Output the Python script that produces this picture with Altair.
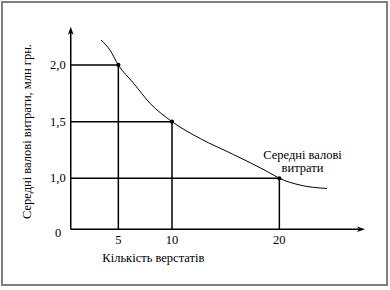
import altair as alt
import pandas as pd

# ---- data ----
curve_x = [3.39, 4.23, 5.0, 6.41, 7.97, 10.0, 12.64, 15.72, 18.87, 20.0, 21.93, 24.44]
curve_y = [2.22, 2.13, 2.0, 1.84, 1.66, 1.5, 1.35, 1.21, 1.06, 1.0, 0.94, 0.91]
point_x = [5, 10, 20]
point_y = [2.0, 1.5, 1.0]
x_tick_values = [5, 10, 20]
x_tick_labels = ["5", "10", "20"]
y_tick_values = [1.0, 1.5, 2.0]
y_tick_labels = ["1,0", "1,5", "2,0"]
origin_label = "0"
x_title = "Кількість верстатів"
y_title = "Середні валові витрати, млн грн."
curve_label = ["Середні валові", "витрати"]

# ---- layout (scale geometry) ----
X_DOMAIN = [-5.84, 30.03]
Y_DOMAIN = [0.058, 2.556]
X0, Y0 = 0.565, 0.55          # where the drawn axes cross
X_END, Y_END = 27.98, 2.338   # arrow tips
X_LABEL_POS = (8.26, 0.297)
Y_LABEL_POS = (-3.51, 1.413)
CURVE_LABEL_POS = (22.16, 1.206)

FONT = "Times New Roman"
FS = 12.5
INK = "#000000"

xs = alt.Scale(domain=X_DOMAIN, nice=False, zero=False)
ys = alt.Scale(domain=Y_DOMAIN, nice=False, zero=False)


def X(f):
    return alt.X(f, type="quantitative", scale=xs, axis=None)


def Y(f):
    return alt.Y(f, type="quantitative", scale=ys, axis=None)


# axes lines
axes_df = pd.DataFrame({
    "x": [X0, X0],
    "x2": [X0, X_END - 0.37],
    "y": [Y0, Y0],
    "y2": [Y_END - 0.035, Y0],
})
axes = alt.Chart(axes_df).mark_rule(color=INK, strokeWidth=1.5).encode(
    x=X("x"), x2="x2", y=Y("y"), y2="y2"
)

up_arrow = alt.Chart(pd.DataFrame({"x": [X0], "y": [Y_END]})).mark_point(
    shape="M0,0L-0.7,2L0,1.5L0.7,2Z", filled=True, size=64, color=INK, opacity=1, strokeWidth=0
).encode(x=X("x"), y=Y("y"))

right_arrow = alt.Chart(pd.DataFrame({"x": [X_END], "y": [Y0]})).mark_point(
    shape="M0,0L-2,-0.7L-1.5,0L-2,0.7Z", filled=True, size=64, color=INK, opacity=1, strokeWidth=0
).encode(x=X("x"), y=Y("y"))

# guide lines from points to axes
h_df = pd.DataFrame({"x": [X0] * len(point_x), "x2": point_x, "y": point_y})
v_df = pd.DataFrame({"x": point_x, "y": [Y0] * len(point_y), "y2": point_y})
h_guides = alt.Chart(h_df).mark_rule(color=INK, strokeWidth=1.5).encode(
    x=X("x"), x2="x2", y=Y("y")
)
v_guides = alt.Chart(v_df).mark_rule(color=INK, strokeWidth=1.5).encode(
    x=X("x"), y=Y("y"), y2="y2"
)

# curve
curve = alt.Chart(pd.DataFrame({"x": curve_x, "y": curve_y})).mark_line(
    color=INK, strokeWidth=1, interpolate="monotone"
).encode(x=X("x"), y=Y("y"), order="x:Q")

points = alt.Chart(pd.DataFrame({"x": point_x, "y": point_y})).mark_circle(
    color=INK, size=18, opacity=1
).encode(x=X("x"), y=Y("y"))

# tick labels
ytl = alt.Chart(pd.DataFrame({"x": [X0] * 3, "y": y_tick_values, "t": y_tick_labels})).mark_text(
    align="right", baseline="middle", dx=-5, font=FONT, fontSize=FS, color=INK
).encode(x=X("x"), y=Y("y"), text="t:N")

xtl = alt.Chart(pd.DataFrame({"x": x_tick_values, "y": [Y0] * 3, "t": x_tick_labels})).mark_text(
    align="center", baseline="middle", dy=11, font=FONT, fontSize=FS, color=INK
).encode(x=X("x"), y=Y("y"), text="t:N")

zero = alt.Chart(pd.DataFrame({"x": [X0], "y": [Y0], "t": [origin_label]})).mark_text(
    align="center", baseline="middle", dx=-12.7, dy=3.5, font=FONT, fontSize=FS, color=INK
).encode(x=X("x"), y=Y("y"), text="t:N")

# titles
xt = alt.Chart(pd.DataFrame({"x": [X_LABEL_POS[0]], "y": [X_LABEL_POS[1]], "t": [x_title]})).mark_text(
    align="center", baseline="middle", font=FONT, fontSize=FS, color=INK
).encode(x=X("x"), y=Y("y"), text="t:N")

yt = alt.Chart(pd.DataFrame({"x": [Y_LABEL_POS[0]], "y": [Y_LABEL_POS[1]], "t": [y_title]})).mark_text(
    align="center", baseline="middle", angle=270, font=FONT, fontSize=FS, color=INK
).encode(x=X("x"), y=Y("y"), text="t:N")

cl = alt.Chart(pd.DataFrame({"x": [CURVE_LABEL_POS[0]], "y": [CURVE_LABEL_POS[1]]})).mark_text(
    align="center", baseline="middle", font=FONT, fontSize=FS, color=INK, lineHeight=13,
    text=curve_label
).encode(x=X("x"), y=Y("y"))

chart = alt.layer(
    h_guides, v_guides, axes, up_arrow, right_arrow, curve, points,
    ytl, xtl, zero, xt, yt, cl
).properties(
    width=385, height=283,
    autosize=alt.AutoSizeParams(type="none"),
    padding={"left": 2, "top": 2, "right": 3, "bottom": 5},
    background="white",
).configure_view(stroke="#808080", strokeWidth=2)

chart.save("out.html", embed_options={"renderer": "svg", "actions": False})
